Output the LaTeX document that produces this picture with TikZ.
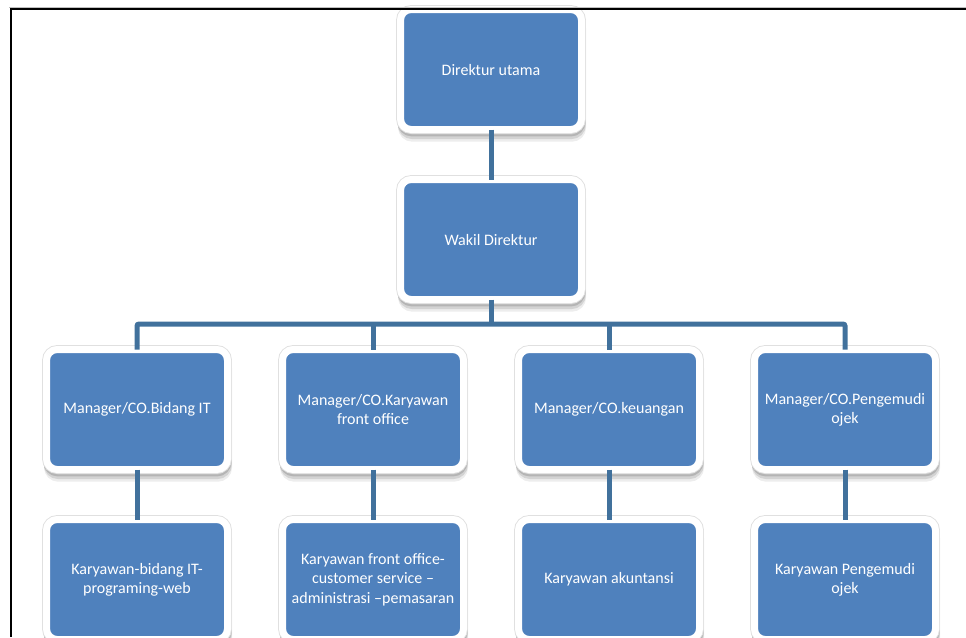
\documentclass[tikz,border=0pt]{standalone}
\usepackage{fontspec}
\setmainfont{Carlito}
\usepackage{xcolor}
\usepackage{tikz}
\usetikzlibrary{positioning}

\definecolor{boxblue}{RGB}{79,129,189}
\definecolor{lineblue}{RGB}{65,113,156}

\begin{document}
\begin{tikzpicture}[
  x=0.75pt, y=-0.75pt,
  node distance=37.5pt and 41.25pt,
  box/.style={rectangle, rounded corners=8pt, draw=white, line width=5.25pt, fill=boxblue, text=white, align=center, font=\fontsize{12}{14.5}\selectfont, minimum width=135.75pt, minimum height=90pt, inner sep=2pt, outer sep=0pt,
    preaction={draw=black, line width=5.25pt, opacity=.07, transform canvas={xshift=0.8pt, yshift=-6.5pt}},
    preaction={draw=black, line width=5.25pt, opacity=.11, transform canvas={xshift=0.6pt, yshift=-4.5pt}},
    preaction={draw=black, line width=5.25pt, opacity=.15, transform canvas={xshift=0.3pt, yshift=-2.5pt}},
    preaction={draw=black!12, line width=6.6pt}},
  link/.style={draw=lineblue, line width=3.75pt, rounded corners=1.5pt}
]
\useasboundingbox (0,0) rectangle (966,637);

% Top level
\node[box] (direktur) at (491,69.5) {Direktur utama};
\node[box, below=of direktur] (wakil) {Wakil Direktur};

% Manager level
\node[box] (mgrit) at (137,409.5) {Manager/CO.Bidang IT};
\node[box, right=of mgrit] (mgrfo) {Manager/CO.Karyawan\\front office};
\node[box, right=of mgrfo] (mgrkeu) {Manager/CO.keuangan};
\node[box, right=of mgrkeu] (mgrojek) {Manager/CO.Pengemudi\\ojek};

% Staff level
\node[box, below=of mgrit] (kit) {Karyawan-bidang IT-\\programing-web};
\node[box, below=of mgrfo] (kfo) {Karyawan front office-\\customer service --\\administrasi --pemasaran};
\node[box, below=of mgrkeu] (kkeu) {Karyawan akuntansi};
\node[box, below=of mgrojek] (kojek) {Karyawan Pengemudi\\ojek};

% Connectors
\coordinate (bus) at (491,324);
\draw[link] (direktur.south) -- (wakil.north);
\draw[link] (wakil.south) -- (wakil.south |- bus);
\draw[link] (mgrit.north) |- (bus -| mgrojek.north) -- (mgrojek.north);
\draw[link] (mgrfo.north) -- (mgrfo.north |- bus);
\draw[link] (mgrkeu.north) -- (mgrkeu.north |- bus);
\draw[link] (mgrit.south) -- (kit.north);
\draw[link] (mgrfo.south) -- (kfo.north);
\draw[link] (mgrkeu.south) -- (kkeu.north);
\draw[link] (mgrojek.south) -- (kojek.north);

% Page frame
\draw[black!25, line width=0.75pt] (9,7) -- (966,7);
\draw[black, line width=1.5pt] (10.5,637) -- (10.5,9) -- (966,9);
\end{tikzpicture}
\end{document}
